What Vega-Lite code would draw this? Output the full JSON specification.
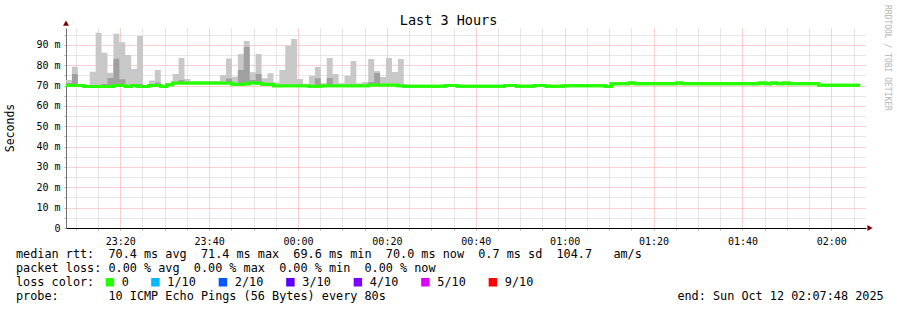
{
  "$schema": "https://vega.github.io/schema/vega-lite/v6.json",
  "width": 800,
  "height": 200,
  "autosize": {"type": "none"},
  "padding": {"left": 66, "top": 28, "right": 31, "bottom": 82},
  "background": "white",
  "config": {"view": {"stroke": null}},
  "data": {"values": [
    {"t":"2025-10-11T23:07:48","m":70.1,"h":72.8,"d":71.3},
    {"t":"2025-10-11T23:09:08","m":70.1,"h":79.3,"d":75.7},
    {"t":"2025-10-11T23:10:28","m":70.1,"h":70.1,"d":70.1},
    {"t":"2025-10-11T23:11:48","m":69.6,"h":69.6,"d":69.6},
    {"t":"2025-10-11T23:13:08","m":69.6,"h":76.8,"d":69.6},
    {"t":"2025-10-11T23:14:28","m":69.6,"h":96.0,"d":69.6},
    {"t":"2025-10-11T23:15:48","m":69.6,"h":86.2,"d":70.8},
    {"t":"2025-10-11T23:17:08","m":69.6,"h":76.4,"d":73.8},
    {"t":"2025-10-11T23:18:28","m":70.1,"h":95.5,"d":83.2},
    {"t":"2025-10-11T23:19:48","m":70.1,"h":91.4,"d":73.2},
    {"t":"2025-10-11T23:21:08","m":69.6,"h":85.1,"d":69.6},
    {"t":"2025-10-11T23:22:28","m":70.1,"h":78.2,"d":70.1},
    {"t":"2025-10-11T23:23:48","m":69.6,"h":94.4,"d":70.8},
    {"t":"2025-10-11T23:25:08","m":69.6,"h":69.6,"d":69.6},
    {"t":"2025-10-11T23:26:28","m":70.1,"h":72.5,"d":70.1},
    {"t":"2025-10-11T23:27:48","m":70.1,"h":77.7,"d":71.5},
    {"t":"2025-10-11T23:29:08","m":69.6,"h":69.6,"d":69.6},
    {"t":"2025-10-11T23:30:28","m":70.4,"h":71.2,"d":70.4},
    {"t":"2025-10-11T23:31:48","m":71.3,"h":75.7,"d":71.3},
    {"t":"2025-10-11T23:33:08","m":71.3,"h":83.6,"d":72.8},
    {"t":"2025-10-11T23:34:28","m":71.3,"h":73.3,"d":71.3},
    {"t":"2025-10-11T23:35:48","m":71.3,"h":71.3,"d":71.3},
    {"t":"2025-10-11T23:37:08","m":71.3,"h":71.3,"d":71.3},
    {"t":"2025-10-11T23:38:28","m":71.3,"h":71.3,"d":71.3},
    {"t":"2025-10-11T23:39:48","m":71.3,"h":72.3,"d":71.3},
    {"t":"2025-10-11T23:41:08","m":71.3,"h":71.3,"d":71.3},
    {"t":"2025-10-11T23:42:28","m":71.3,"h":75.2,"d":71.3},
    {"t":"2025-10-11T23:43:48","m":71.3,"h":83.3,"d":73.5},
    {"t":"2025-10-11T23:45:08","m":70.7,"h":74.4,"d":70.7},
    {"t":"2025-10-11T23:46:28","m":70.7,"h":85.6,"d":77.7},
    {"t":"2025-10-11T23:47:48","m":71.0,"h":92.0,"d":89.2},
    {"t":"2025-10-11T23:49:08","m":71.4,"h":76.6,"d":72.8},
    {"t":"2025-10-11T23:50:28","m":71.2,"h":85.6,"d":75.7},
    {"t":"2025-10-11T23:51:48","m":70.7,"h":73.6,"d":70.7},
    {"t":"2025-10-11T23:53:08","m":70.7,"h":76.1,"d":70.7},
    {"t":"2025-10-11T23:54:28","m":70.0,"h":71.5,"d":70.0},
    {"t":"2025-10-11T23:55:48","m":70.0,"h":77.7,"d":70.0},
    {"t":"2025-10-11T23:57:08","m":70.0,"h":89.6,"d":70.0},
    {"t":"2025-10-11T23:58:28","m":70.0,"h":93.0,"d":70.0},
    {"t":"2025-10-11T23:59:48","m":70.0,"h":73.3,"d":70.0},
    {"t":"2025-10-12T00:01:08","m":70.0,"h":70.9,"d":70.0},
    {"t":"2025-10-12T00:02:28","m":69.7,"h":74.9,"d":69.7},
    {"t":"2025-10-12T00:03:48","m":69.7,"h":79.2,"d":73.6},
    {"t":"2025-10-12T00:05:08","m":70.0,"h":71.2,"d":70.0},
    {"t":"2025-10-12T00:06:28","m":70.0,"h":83.6,"d":73.8},
    {"t":"2025-10-12T00:07:48","m":70.0,"h":75.7,"d":70.0},
    {"t":"2025-10-12T00:09:08","m":70.0,"h":71.2,"d":70.0},
    {"t":"2025-10-12T00:10:28","m":70.0,"h":74.9,"d":70.0},
    {"t":"2025-10-12T00:11:48","m":70.0,"h":82.1,"d":70.0},
    {"t":"2025-10-12T00:13:08","m":70.0,"h":71.2,"d":70.0},
    {"t":"2025-10-12T00:14:28","m":70.0,"h":71.8,"d":70.0},
    {"t":"2025-10-12T00:15:48","m":70.3,"h":83.1,"d":71.8},
    {"t":"2025-10-12T00:17:08","m":70.3,"h":77.2,"d":76.2},
    {"t":"2025-10-12T00:18:28","m":70.3,"h":74.3,"d":70.3},
    {"t":"2025-10-12T00:19:48","m":70.3,"h":83.6,"d":70.3},
    {"t":"2025-10-12T00:21:08","m":70.3,"h":76.7,"d":70.3},
    {"t":"2025-10-12T00:22:28","m":69.9,"h":83.1,"d":69.9},
    {"t":"2025-10-12T00:23:48","m":69.7,"h":70.8,"d":69.7},
    {"t":"2025-10-12T00:25:08","m":69.7,"h":69.7,"d":69.7},
    {"t":"2025-10-12T00:26:28","m":69.7},
    {"t":"2025-10-12T00:27:48","m":69.7},
    {"t":"2025-10-12T00:29:08","m":69.7},
    {"t":"2025-10-12T00:30:28","m":69.7},
    {"t":"2025-10-12T00:31:48","m":69.7},
    {"t":"2025-10-12T00:33:08","m":70.1},
    {"t":"2025-10-12T00:34:28","m":70.1},
    {"t":"2025-10-12T00:35:48","m":69.7},
    {"t":"2025-10-12T00:37:08","m":69.7},
    {"t":"2025-10-12T00:38:28","m":69.7},
    {"t":"2025-10-12T00:39:48","m":69.7},
    {"t":"2025-10-12T00:41:08","m":69.7},
    {"t":"2025-10-12T00:42:28","m":69.7},
    {"t":"2025-10-12T00:43:48","m":69.7},
    {"t":"2025-10-12T00:45:08","m":69.7},
    {"t":"2025-10-12T00:46:28","m":70.1},
    {"t":"2025-10-12T00:47:48","m":70.1},
    {"t":"2025-10-12T00:49:08","m":69.7},
    {"t":"2025-10-12T00:50:28","m":69.7},
    {"t":"2025-10-12T00:51:48","m":69.7},
    {"t":"2025-10-12T00:53:08","m":70.1},
    {"t":"2025-10-12T00:54:28","m":70.1},
    {"t":"2025-10-12T00:55:48","m":69.7},
    {"t":"2025-10-12T00:57:08","m":69.7},
    {"t":"2025-10-12T00:58:28","m":69.7},
    {"t":"2025-10-12T00:59:48","m":70.0},
    {"t":"2025-10-12T01:01:08","m":70.0},
    {"t":"2025-10-12T01:02:28","m":70.0},
    {"t":"2025-10-12T01:03:48","m":70.0},
    {"t":"2025-10-12T01:05:08","m":70.0},
    {"t":"2025-10-12T01:06:28","m":70.0},
    {"t":"2025-10-12T01:07:48","m":70.0},
    {"t":"2025-10-12T01:09:08","m":69.6},
    {"t":"2025-10-12T01:10:28","m":70.9},
    {"t":"2025-10-12T01:11:48","m":70.9},
    {"t":"2025-10-12T01:13:08","m":70.9},
    {"t":"2025-10-12T01:14:28","m":71.3},
    {"t":"2025-10-12T01:15:48","m":70.9},
    {"t":"2025-10-12T01:17:08","m":70.9},
    {"t":"2025-10-12T01:18:28","m":70.9},
    {"t":"2025-10-12T01:19:48","m":70.9},
    {"t":"2025-10-12T01:21:08","m":70.9},
    {"t":"2025-10-12T01:22:28","m":70.9},
    {"t":"2025-10-12T01:23:48","m":70.9},
    {"t":"2025-10-12T01:25:08","m":71.3},
    {"t":"2025-10-12T01:26:28","m":70.9},
    {"t":"2025-10-12T01:27:48","m":70.9},
    {"t":"2025-10-12T01:29:08","m":70.9},
    {"t":"2025-10-12T01:30:28","m":70.9},
    {"t":"2025-10-12T01:31:48","m":70.9},
    {"t":"2025-10-12T01:33:08","m":70.9},
    {"t":"2025-10-12T01:34:28","m":70.9},
    {"t":"2025-10-12T01:35:48","m":70.9},
    {"t":"2025-10-12T01:37:08","m":70.9},
    {"t":"2025-10-12T01:38:28","m":70.9},
    {"t":"2025-10-12T01:39:48","m":70.9},
    {"t":"2025-10-12T01:41:08","m":70.9},
    {"t":"2025-10-12T01:42:28","m":70.9},
    {"t":"2025-10-12T01:43:48","m":71.3},
    {"t":"2025-10-12T01:45:08","m":70.9},
    {"t":"2025-10-12T01:46:28","m":71.3},
    {"t":"2025-10-12T01:47:48","m":70.9},
    {"t":"2025-10-12T01:49:08","m":71.3},
    {"t":"2025-10-12T01:50:28","m":70.9},
    {"t":"2025-10-12T01:51:48","m":70.9},
    {"t":"2025-10-12T01:53:08","m":70.9},
    {"t":"2025-10-12T01:54:28","m":70.9},
    {"t":"2025-10-12T01:55:48","m":70.9},
    {"t":"2025-10-12T01:57:08","m":70.2},
    {"t":"2025-10-12T01:58:28","m":70.2},
    {"t":"2025-10-12T01:59:48","m":70.2},
    {"t":"2025-10-12T02:01:08","m":70.2},
    {"t":"2025-10-12T02:02:28","m":70.2},
    {"t":"2025-10-12T02:03:48","m":70.2},
    {"t":"2025-10-12T02:05:08","m":70.2},
    {"t":"2025-10-12T02:06:28","m":70.2}
  ]},
  "layer": [
    {
      "mark": {"type": "line", "interpolate": "step-after", "strokeWidth": 3},
      "encoding": {
        "x": {
          "field": "t", "type": "temporal",
          "scale": {"domain": [{"year":2025,"month":10,"date":11,"hours":23,"minutes":7,"seconds":48},{"year":2025,"month":10,"date":12,"hours":2,"minutes":7,"seconds":48}], "nice": false},
          "axis": {
            "format": "%H:%M",
            "tickCount": 36,
            "labelExpr": "minutes(datum.value) % 20 === 0 ? datum.label : ''",
            "labelOverlap": false,
            "labelFlush": false,
            "labelFont": "DejaVu Sans Mono",
            "labelFontSize": 10,
            "labelColor": "#000000",
            "labelPadding": 6,
            "tickSize": 2,
            "tickColor": "#b0b0b0",
            "domainColor": "#000000",
            "grid": true,
            "gridDash": [1, 1],
            "gridColor": {"condition": {"test": "minutes(datum.value) % 20 === 0", "value": "#f4a0a0"}, "value": "#cfcfcf"},
            "title": null
          }
        },
        "y": {
          "field": "m", "type": "quantitative",
          "scale": {"domain": [0, 98.36], "nice": false, "zero": false},
          "axis": {
            "tickCount": 20,
            "labelExpr": "datum.value === 0 ? '0' : (datum.value % 10 === 0 ? datum.value + ' m' : '')",
            "labelOverlap": false,
            "labelFont": "DejaVu Sans Mono",
            "labelFontSize": 10,
            "labelColor": "#000000",
            "labelPadding": 4,
            "tickSize": 2,
            "tickColor": "#b0b0b0",
            "domainColor": "#707070",
            "grid": true,
            "gridDash": [1, 1],
            "gridColor": {"condition": {"test": "datum.value % 10 === 0", "value": "#f4a0a0"}, "value": "#cfcfcf"},
            "title": "Seconds",
            "titleFont": "DejaVu Sans Mono",
            "titleFontSize": 11.5,
            "titleFontWeight": "normal",
            "titleColor": "#000000",
            "titleAngle": -90,
            "titleAlign": "center",
            "titleBaseline": "middle",
            "titleX": -55.5,
            "titleY": 99.5
          }
        },
        "color": {
          "datum": "0", "type": "nominal",
          "scale": {"domain": ["0", "1/10", "2/10", "3/10", "4/10", "5/10", "9/10"], "range": ["#26ff00", "#00b8ff", "#0059ff", "#5e00ff", "#7e00ff", "#dd00ff", "#ff0000"]},
          "legend": {
            "orient": "none", "legendX": 38, "legendY": 248, "direction": "horizontal",
            "title": null, "padding": 0,
            "symbolType": "square", "symbolSize": 20, "symbolStrokeWidth": 4,
            "labelFont": "DejaVu Sans Mono", "labelFontSize": 11.82, "labelColor": "#000000",
            "labelOffset": 6, "columnPadding": 15.5
          }
        }
      }
    },
    {
      "transform": [{"filter": "isValid(datum.h)"}],
      "mark": {"type": "area", "interpolate": "step-after", "color": "#c8c8c8"},
      "encoding": {
        "x": {"field": "t", "type": "temporal"},
        "y": {"field": "h", "type": "quantitative"},
        "y2": {"field": "m"}
      }
    },
    {
      "transform": [{"filter": "isValid(datum.h)"}],
      "mark": {"type": "area", "interpolate": "step-after", "color": "#a0a0a0"},
      "encoding": {
        "x": {"field": "t", "type": "temporal"},
        "y": {"field": "d", "type": "quantitative"},
        "y2": {"field": "m"}
      }
    },
    {
      "mark": {"type": "line", "interpolate": "step-after", "color": "#26ff00", "strokeWidth": 3},
      "encoding": {
        "x": {"field": "t", "type": "temporal"},
        "y": {"field": "m", "type": "quantitative"}
      }
    },
    {
      "data": {"values": [{}]},
      "mark": {"type": "point", "shape": "triangle-up", "filled": true, "color": "#800000", "size": 36, "opacity": 1},
      "encoding": {
        "x": {"datum": {"year":2025,"month":10,"date":11,"hours":23,"minutes":7,"seconds":48}, "type": "temporal"},
        "y": {"datum": 100.8, "type": "quantitative"}
      }
    },
    {
      "data": {"values": [{}]},
      "mark": {"type": "point", "shape": "triangle-right", "filled": true, "color": "#800000", "size": 36, "opacity": 1},
      "encoding": {
        "x": {"datum": {"year":2025,"month":10,"date":12,"hours":2,"minutes":8,"seconds":42}, "type": "temporal"},
        "y": {"datum": 0, "type": "quantitative"}
      }
    },
    {
      "data": {"values": [{}]},
      "mark": {"type": "text", "text": "Last 3 Hours", "font": "DejaVu Sans Mono", "fontSize": 13.5, "color": "#000000", "align": "center", "baseline": "alphabetic"},
      "encoding": {
        "x": {"datum": {"year":2025,"month":10,"date":12,"hours":0,"minutes":33,"seconds":52}, "type": "temporal"},
        "y": {"datum": 99.8, "type": "quantitative"}
      }
    },
    {
      "data": {"values": [{}]},
      "mark": {"type": "text", "text": "RRDTOOL / TOBI OETIKER", "font": "DejaVu Sans Mono", "fontSize": 8, "color": "#b4b4b4", "align": "left", "baseline": "middle", "angle": 90},
      "encoding": {
        "x": {"datum": {"year":2025,"month":10,"date":12,"hours":2,"minutes":12,"seconds":38}, "type": "temporal"},
        "y": {"datum": 109.7, "type": "quantitative"}
      }
    },
    {
      "data": {"values": [{}]},
      "mark": {
        "type": "text",
        "text": [
          "median\u00a0rtt:\u00a0\u00a070.4\u00a0ms\u00a0avg\u00a0\u00a071.4\u00a0ms\u00a0max\u00a0\u00a069.6\u00a0ms\u00a0min\u00a0\u00a070.0\u00a0ms\u00a0now\u00a0\u00a00.7\u00a0ms\u00a0sd\u00a0\u00a0104.7\u00a0\u00a0\u00a0am/s",
          "packet\u00a0loss:\u00a00.00\u00a0%\u00a0avg\u00a0\u00a00.00\u00a0%\u00a0max\u00a0\u00a00.00\u00a0%\u00a0min\u00a0\u00a00.00\u00a0%\u00a0now",
          "loss\u00a0color:",
          "probe:\u00a0\u00a0\u00a0\u00a0\u00a0\u00a0\u00a010\u00a0ICMP\u00a0Echo\u00a0Pings\u00a0(56\u00a0Bytes)\u00a0every\u00a080s\u00a0\u00a0\u00a0\u00a0\u00a0\u00a0\u00a0\u00a0\u00a0\u00a0\u00a0\u00a0\u00a0\u00a0\u00a0\u00a0\u00a0\u00a0\u00a0\u00a0\u00a0\u00a0\u00a0\u00a0\u00a0\u00a0\u00a0\u00a0\u00a0\u00a0\u00a0\u00a0\u00a0\u00a0\u00a0\u00a0\u00a0\u00a0\u00a0\u00a0\u00a0end:\u00a0Sun\u00a0Oct\u00a012\u00a002:07:48\u00a02025"
        ],
        "font": "DejaVu Sans Mono", "fontSize": 11.82, "color": "#000000", "align": "left", "baseline": "top", "lineHeight": 14
      },
      "encoding": {
        "x": {"datum": {"year":2025,"month":10,"date":11,"hours":22,"minutes":56,"seconds":33}, "type": "temporal"},
        "y": {"datum": -10.18, "type": "quantitative"}
      }
    }
  ]
}
